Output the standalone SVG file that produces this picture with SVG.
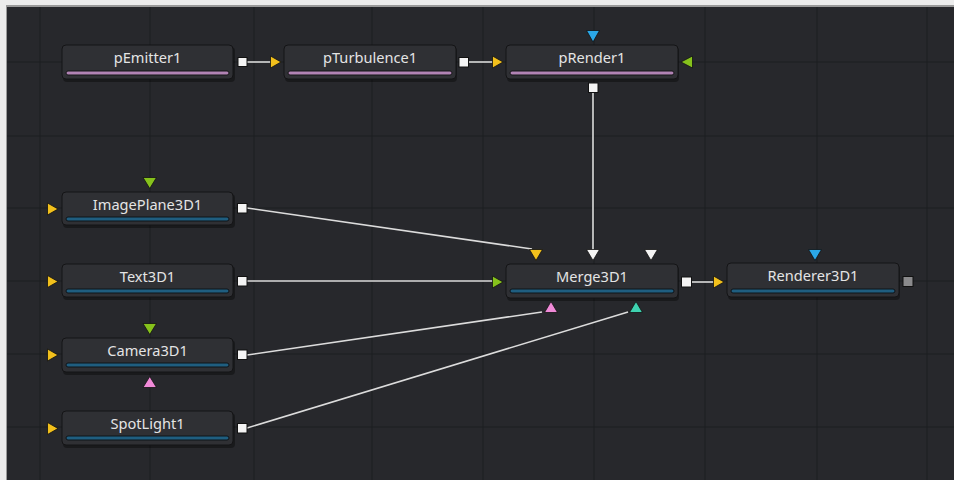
<svg xmlns="http://www.w3.org/2000/svg" width="954" height="480" viewBox="0 0 954 480">
<defs>
<style>
.bg{fill:#27282c}
.grid{stroke:#1d1e21;stroke-width:1}
.node{fill:#2f3034;stroke:#141416;stroke-width:1}
.shadow{fill:#000;opacity:0.35}
.lbl{font-family:"Noto Sans","Open Sans",sans-serif;font-size:14.6px;fill:#e4e4e4;text-anchor:middle}
.barP{fill:#b183b4;stroke:#141416;stroke-width:1}
.barB{fill:#1f5e80;stroke:#0e1418;stroke-width:1}
.out{fill:#f4f4f4;stroke:#111;stroke-width:1}
.outG{fill:#8a8a8c;stroke:#111;stroke-width:1}
.wire{stroke:#dcdcdc;stroke-width:1.6;fill:none}
.yel{fill:#f2c01c;stroke:#111;stroke-width:0.8}
.grn{fill:#86c21c;stroke:#111;stroke-width:0.8}
.blu{fill:#2ba8e8;stroke:#111;stroke-width:0.8}
.pnk{fill:#f08ad8;stroke:#111;stroke-width:0.8}
.tea{fill:#3ed2b0;stroke:#111;stroke-width:0.8}
.wht{fill:#f4f4f4;stroke:#111;stroke-width:0.8}
</style>
</defs>
<rect x="0" y="0" width="954" height="480" fill="#ececec"/>
<rect x="6" y="5" width="948" height="475" fill="#9a9a9a"/>
<rect class="bg" x="7" y="7" width="947" height="473"/>
<g id="grid">
<line class="grid" x1="40" y1="7" x2="40" y2="480"/>
<line class="grid" x1="150" y1="7" x2="150" y2="480"/>
<line class="grid" x1="254" y1="7" x2="254" y2="480"/>
<line class="grid" x1="372" y1="7" x2="372" y2="480"/>
<line class="grid" x1="483" y1="7" x2="483" y2="480"/>
<line class="grid" x1="594" y1="7" x2="594" y2="480"/>
<line class="grid" x1="705" y1="7" x2="705" y2="480"/>
<line class="grid" x1="817" y1="7" x2="817" y2="480"/>
<line class="grid" x1="927" y1="7" x2="927" y2="480"/>
<line class="grid" x1="7" y1="62" x2="954" y2="62"/>
<line class="grid" x1="7" y1="136" x2="954" y2="136"/>
<line class="grid" x1="7" y1="208" x2="954" y2="208"/>
<line class="grid" x1="7" y1="281" x2="954" y2="281"/>
<line class="grid" x1="7" y1="354" x2="954" y2="354"/>
<line class="grid" x1="7" y1="427" x2="954" y2="427"/>
</g>
<g id="connectors">
<line class="wire" x1="247" y1="62" x2="271" y2="62"/>
<line class="wire" x1="469" y1="62" x2="493" y2="62"/>
<line class="wire" x1="593" y1="93" x2="593" y2="251"/>
<line class="wire" x1="247" y1="208" x2="532" y2="249"/>
<line class="wire" x1="247" y1="281" x2="493" y2="281"/>
<line class="wire" x1="247" y1="355" x2="542" y2="312"/>
<line class="wire" x1="247" y1="428" x2="628" y2="312"/>
<line class="wire" x1="692" y1="282" x2="714" y2="282"/>
</g>
<g id="pEmitter1">
<rect class="shadow" x="63" y="47" width="172" height="35" rx="4"/>
<rect class="node" x="62" y="45" width="171" height="34" rx="4"/>
<text class="lbl" x="147.5" y="63">pEmitter1</text>
<rect class="barP" x="66" y="71" width="163" height="4" rx="2"/>
<rect class="out" x="238" y="57.5" width="9" height="9"/>
</g>
<g id="pTurbulence1">
<rect class="shadow" x="285" y="47" width="172" height="35" rx="4"/>
<rect class="node" x="284" y="45" width="172" height="34" rx="4"/>
<text class="lbl" x="370" y="63">pTurbulence1</text>
<rect class="barP" x="288" y="71" width="164" height="4" rx="2"/>
<polygon class="yel" points="270.5,56 281,62 270.5,68"/>
<rect class="out" x="459" y="57.5" width="9.5" height="9.5"/>
</g>
<g id="pRender1">
<rect class="shadow" x="507" y="47" width="172" height="35" rx="4"/>
<rect class="node" x="506" y="45" width="172" height="34" rx="4"/>
<text class="lbl" x="592" y="63">pRender1</text>
<rect class="barP" x="510" y="71" width="164" height="4" rx="2"/>
<polygon class="yel" points="492.5,56 503,62 492.5,68"/>
<polygon class="blu" points="586.5,30.5 599.5,30.5 593,42"/>
<polygon class="grn" points="692.5,56 681,62 692.5,68"/>
<rect class="out" x="588.5" y="83" width="9.5" height="9.5"/>
</g>
<g id="ImagePlane3D1">
<rect class="shadow" x="63" y="194" width="172" height="34" rx="4"/>
<rect class="node" x="62" y="192" width="171" height="33" rx="4"/>
<text class="lbl" x="147.5" y="210">ImagePlane3D1</text>
<rect class="barB" x="66" y="217" width="163" height="4" rx="2"/>
<polygon class="grn" points="143,177.5 156.5,177.5 149.75,188.5"/>
<polygon class="yel" points="47.5,203 58,209 47.5,215"/>
<rect class="out" x="237.5" y="203.5" width="9.5" height="9.5"/>
</g>
<g id="Text3D1">
<rect class="shadow" x="63" y="266" width="172" height="34" rx="4"/>
<rect class="node" x="62" y="264" width="171" height="33" rx="4"/>
<text class="lbl" x="147.5" y="282">Text3D1</text>
<rect class="barB" x="66" y="289" width="163" height="4" rx="2"/>
<polygon class="yel" points="47.5,275.5 58,281.5 47.5,287.5"/>
<rect class="out" x="237.5" y="276.5" width="9.5" height="9.5"/>
</g>
<g id="Camera3D1">
<rect class="shadow" x="63" y="340" width="172" height="35" rx="4"/>
<rect class="node" x="62" y="338" width="171" height="34" rx="4"/>
<text class="lbl" x="147.5" y="356">Camera3D1</text>
<rect class="barB" x="66" y="363" width="163" height="4" rx="2"/>
<polygon class="grn" points="143,323.5 156.5,323.5 149.75,334.5"/>
<polygon class="pnk" points="143,387.5 156.5,387.5 149.75,376.5"/>
<polygon class="yel" points="47.5,349 58,355 47.5,361"/>
<rect class="out" x="237.5" y="350" width="9.5" height="9.5"/>
</g>
<g id="SpotLight1">
<rect class="shadow" x="63" y="413" width="172" height="35" rx="4"/>
<rect class="node" x="62" y="411" width="171" height="34" rx="4"/>
<text class="lbl" x="147.5" y="429">SpotLight1</text>
<rect class="barB" x="66" y="436" width="163" height="4" rx="2"/>
<polygon class="yel" points="47.5,422.5 58,428.5 47.5,434.5"/>
<rect class="out" x="237.5" y="423.5" width="9.5" height="9.5"/>
</g>
<g id="Merge3D1">
<rect class="shadow" x="507" y="266" width="172" height="35" rx="4"/>
<rect class="node" x="506" y="264" width="172" height="34" rx="4"/>
<text class="lbl" x="592" y="282">Merge3D1</text>
<rect class="barB" x="510" y="289" width="164" height="4" rx="2"/>
<polygon class="yel" points="529.5,249.5 542.5,249.5 536,260.5"/>
<polygon class="wht" points="586.5,249.5 599.5,249.5 593,260.5"/>
<polygon class="wht" points="644.5,249.5 657.5,249.5 651,260.5"/>
<polygon class="grn" points="492.5,276 503,282 492.5,288"/>
<polygon class="pnk" points="544.5,312.5 557.5,312.5 551,301.5"/>
<polygon class="tea" points="629.5,312.5 642.5,312.5 636,301.5"/>
<rect class="out" x="681.5" y="277" width="10" height="10"/>
</g>
<g id="Renderer3D1">
<rect class="shadow" x="728" y="265" width="172" height="35" rx="4"/>
<rect class="node" x="727" y="263" width="172" height="34" rx="4"/>
<text class="lbl" x="813" y="281">Renderer3D1</text>
<rect class="barB" x="731" y="289" width="164" height="4" rx="2"/>
<polygon class="yel" points="713.5,276 724,282 713.5,288"/>
<polygon class="blu" points="808.5,249.5 821.5,249.5 815,260.5"/>
<rect class="outG" x="903" y="276.5" width="10" height="10"/>
</g>
</svg>
